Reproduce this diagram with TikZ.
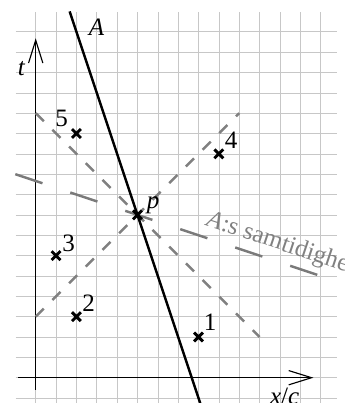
\documentclass[tikz,border=0pt]{standalone}
\usepackage{fontspec}
\setmainfont{Liberation Serif}
\usetikzlibrary{arrows.meta,shapes.misc}
\begin{document}
\begin{tikzpicture}[x=0.5cm,y=0.5cm,
  lbl/.style={font=\fontsize{17.5}{20}\selectfont, inner sep=0pt},
  cone/.style={draw=black!50, line width=1.7pt, dash pattern=on 8pt off 8.5pt},
  simul/.style={draw=black!52, line width=1.7pt, dash pattern=on 20pt off 20.5pt},
  wline/.style={draw=black, line width=1.7pt},
  axisline/.style={draw=black, line width=0.8pt, -{Straight Barb[length=16pt,width=10pt,line width=0.8pt]}},
  ev/.style={cross out, draw=black, line width=2pt, minimum size=4.2pt, inner sep=0pt}]
\useasboundingbox (-1.754,-1.243) rectangle (15.15,18.56);
\clip (-1.754,-1.243) rectangle (15.15,18.56);
% grid
\draw[black!22, line width=0.4pt, step=1] (-0.99,-1.3) grid (14.8,17.97);
% axes
\coordinate (xs) at (-0.85,0);
\coordinate (xe) at (13.65,0);
\coordinate (ts) at (0,-0.6);
\coordinate (te) at (0,16.68);
\draw[axisline] (xs) -- (xe);
\draw[axisline] (ts) -- (te);
% light cone of p
\coordinate (c1s) at (0,3);
\coordinate (c1e) at (10,13);
\coordinate (c2s) at (0,13);
\coordinate (c2e) at (11,2);
\draw[cone] (c1s) -- (c1e);
\draw[cone] (c2s) -- (c2e);
% simultaneity line of A
\coordinate (ss) at (-1,10);
\coordinate (se) at (14.8,4.7333);
\draw[simul] (ss) -- (se);
% world line A
\coordinate (Atop) at (1.6667,18);
\coordinate (Abot) at (8.4,-2.2);
\draw[wline] (Atop) -- (Abot);
% events
\node[ev] (P) at (5,8) {};
\node[ev] (e1) at (8,2) {};
\node[ev] (e2) at (2,3) {};
\node[ev] (e3) at (1,6) {};
\node[ev] (e4) at (9,11) {};
\node[ev] (e5) at (2,12) {};
% labels
\node[lbl] (l1) at (8.57,2.75) {1};
\node[lbl] (l2) at (2.6,3.68) {2};
\node[lbl] (l3) at (1.62,6.58) {3};
\node[lbl] (l4) at (9.6,11.68) {4};
\node[lbl] (l5) at (1.28,12.75) {5};
\node[lbl] (lp) at (5.77,8.49) {\textit{p}};
\node[lbl] (lA) at (2.99,17.23) {\textit{A}};
\node[lbl] (lt) at (-0.69,15.17) {\textit{t}};
\node[lbl, anchor=base west] (lx) at (11.5,-1.30) {\textit{x}/\textit{c}};
\node[lbl, anchor=base west, rotate=-18.43, text=black!50] (ls) at (8.33,7.50) {\textit{A}:s samtidighet};
\end{tikzpicture}
\end{document}
